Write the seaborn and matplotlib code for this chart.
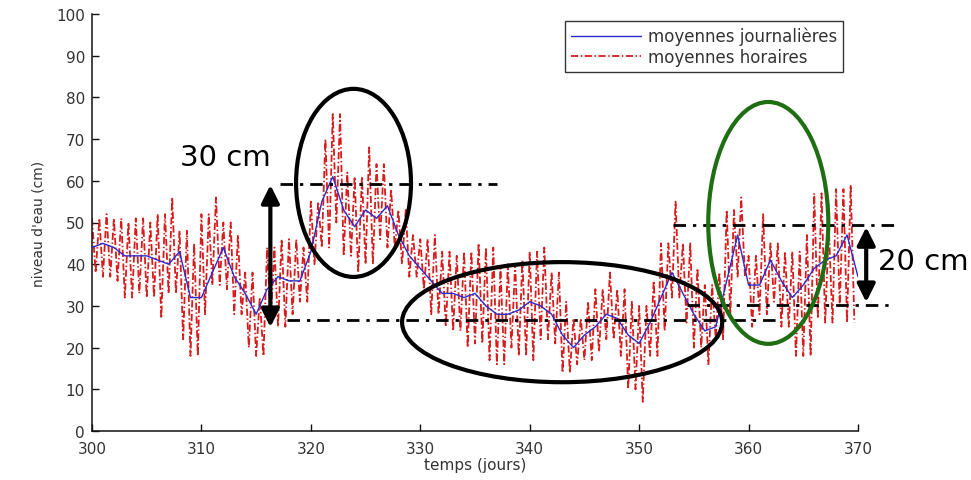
import numpy as np
import pandas as pd
import matplotlib
matplotlib.use("Agg")
import matplotlib.pyplot as plt
from matplotlib.patches import Ellipse
import seaborn as sns

# ---------------- data ----------------
days = list(range(300, 371))
daily_mean = [44, 45, 44, 42, 42, 42, 41, 40, 43, 32,
              32, 38, 44, 37, 33, 28, 34, 37, 36, 36,
              43, 55, 61, 53, 49, 53, 51, 54, 47, 42,
              39, 36, 33, 33, 32, 33, 30, 28, 28, 29,
              31, 30, 28, 23, 20, 23, 25, 28, 27, 23,
              21, 26, 32, 38, 33, 28, 24, 25, 36, 47,
              35, 35, 41, 36, 32, 35, 39, 41, 42, 47, 37]

# tidal highs / lows of the hourly series, one pair per day 300..369
tide_days = list(range(300, 370))
tide_high = [51, 52, 51, 50, 51, 50, 52, 56, 48, 45,
             52, 56, 50, 47, 38, 32, 44, 46, 46, 44,
             55, 70, 76, 62, 61, 68, 64, 58, 53, 47,
             46, 47, 43, 42, 43, 45, 44, 39, 40, 41,
             43, 44, 38, 31, 27, 31, 34, 38, 34, 31,
             30, 36, 45, 55, 45, 39, 35, 38, 53, 56,
             42, 52, 45, 43, 43, 47, 57, 49, 58, 59]
tide_low = [38, 37, 36, 32, 33, 32, 27, 33, 22, 18,
            28, 35, 34, 28, 20, 18, 26, 25, 28, 31,
            40, 44, 50, 42, 38, 40, 46, 44, 40, 37,
            34, 28, 25, 24, 20, 21, 17, 16, 20, 18,
            17, 22, 21, 14, 16, 17, 19, 22, 18, 10,
            7, 18, 24, 32, 26, 20, 16, 22, 28, 37,
            25, 28, 31, 25, 18, 18, 27, 26, 30, 26]
tide_phase = [0.0, 0.33, 0.67]

x_ticks = [300, 310, 320, 330, 340, 350, 360, 370]
y_ticks = [0, 10, 20, 30, 40, 50, 60, 70, 80, 90, 100]

label_daily = "moyennes journalières"
label_hourly = "moyennes horaires"

# ---------------- build tables ----------------
df_daily = pd.DataFrame({"t": days, "v": daily_mean})
t_h, v_h = [], []
k = 0
for d, hi, lo in zip(tide_days, tide_high, tide_low):
    for ph in tide_phase:
        t_h.append(d + ph)
        v_h.append(hi if k % 2 == 0 else lo)
        k += 1
df_hourly = pd.DataFrame({"t": t_h, "v": v_h})

# ---------------- figure ----------------
sns.set_theme(style="ticks")
plt.rcParams["font.family"] = ["DejaVu Sans"]

fig = plt.figure(figsize=(9.71, 4.81), dpi=100)
ax = fig.add_axes([92 / 971, 1 - 432 / 481, (858 - 92) / 971, (432 - 15) / 481])

sns.lineplot(data=df_daily, x="t", y="v", ax=ax, color="#2a2ad0", lw=1.0,
             label=label_daily, estimator=None, zorder=3)
sns.lineplot(data=df_hourly, x="t", y="v", ax=ax, color="#d81c1c", lw=1.3,
             linestyle=(0, (4.0, 1.4, 0.8, 1.4)), label=label_hourly,
             estimator=None, zorder=2)

ax.set_xlim(300, 370)
ax.set_ylim(0, 100)
ax.set_xticks(x_ticks)
ax.set_yticks(y_ticks)
ax.tick_params(direction="in", length=5, width=1, labelsize=11,
               colors="#111111", labelcolor="#333333")
ax.tick_params(axis="x", pad=7)
ax.tick_params(axis="y", pad=5)
for s in ["top", "right"]:
    ax.spines[s].set_visible(False)
for s in ["left", "bottom"]:
    ax.spines[s].set_linewidth(1.1)
    ax.spines[s].set_color("#111111")
ax.set_xlabel("temps (jours)", fontsize=11, color="#333333", labelpad=1)
ax.set_ylabel("niveau d'eau (cm)", fontsize=10, color="#333333", labelpad=8)

leg = ax.legend(loc="upper right", bbox_to_anchor=(843 / 971, 1 - 22 / 481),
                bbox_transform=fig.transFigure, fontsize=12, frameon=True,
                fancybox=False, handlelength=4.2, handletextpad=0.4,
                borderpad=0.35, labelspacing=0.15, borderaxespad=0)
leg.get_frame().set_edgecolor("black")
leg.get_frame().set_linewidth(1.0)
for txt in leg.get_texts():
    txt.set_color("#333333")

# ---------------- annotations ----------------
dd = (0, (4.5, 2.5, 1.2, 2.5))
ann_kw = dict(color="black", lw=2.0, linestyle=dd, clip_on=False, zorder=5)
ax.plot([317.2, 337.0], [59.2, 59.2], **ann_kw)
ax.plot([317.8, 362.6], [26.6, 26.6], **ann_kw)
ax.plot([353.1, 373.4], [49.4, 49.4], **ann_kw)
ax.plot([354.4, 373.4], [30.2, 30.2], **ann_kw)

arrow_kw = dict(arrowstyle="<|-|>,head_length=0.9,head_width=0.45",
                color="black", lw=3, shrinkA=0, shrinkB=0)
ax.annotate("", xy=(316.3, 59.0), xytext=(316.3, 24.9),
            arrowprops=arrow_kw, annotation_clip=False)
ax.annotate("", xy=(370.75, 48.9), xytext=(370.75, 30.9),
            arrowprops=arrow_kw, annotation_clip=False)

ax.text(308.0, 65.7, "30 cm", fontsize=21, va="center", ha="left",
        color="black")
ax.text(371.8, 40.8, "20 cm", fontsize=21, va="center", ha="left",
        color="black", clip_on=False)

ax.add_patch(Ellipse((323.9, 59.5), 10.5, 45.1, fill=False, ec="black",
                     lw=3, zorder=6, clip_on=False))
ax.add_patch(Ellipse((342.96, 26.1), 29.25, 28.8, fill=False, ec="black",
                     lw=3, zorder=6, clip_on=False))
ax.add_patch(Ellipse((361.8, 49.9), 10.97, 58.0, fill=False, ec="#1f6e14",
                     lw=3, zorder=6, clip_on=False))

fig.savefig("out.png", dpi=100)
